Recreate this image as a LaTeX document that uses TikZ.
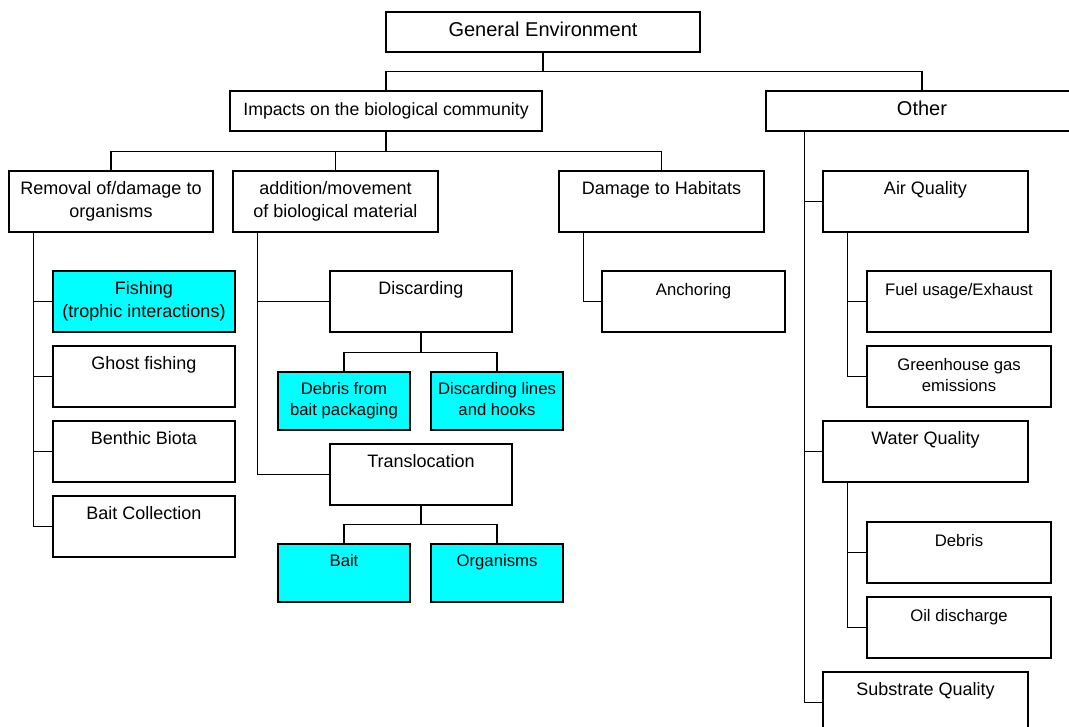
\documentclass[tikz,border=0pt]{standalone}
\usepackage{fontspec}
\setmainfont{Liberation Sans}
\definecolor{aqua}{RGB}{0,255,255}
\newcommand{\boxtext}[2]{\strut#1\\\strut#2}

\begin{document}
\begin{tikzpicture}[x=1pt,y=-1pt,
    box/.style={draw,rectangle,line width=1.3pt,inner sep=0pt,align=center},
    big/.style={box,minimum height=40,font=\fontsize{20}{25}\selectfont},
    mid/.style={box,minimum height=61,font=\fontsize{18}{22.5}\selectfont},
    small/.style={box,font=\fontsize{16.7}{21}\selectfont},
    hl/.style={fill=aqua},
    link/.style={draw,line width=1.3pt}]
  \path[use as bounding box,clip] (0,0) rectangle (1069,727);
  \node[big,minimum width=314] (ge) at (543,32) {\strut General Environment};
  \node[big,minimum width=312,font=\fontsize{17.7}{25}\selectfont] (imp) at (386,111) {\strut Impacts on the biological community};
  \node[big,minimum width=312] (oth) at (922,111) {\strut Other};
  % second row
  \node[mid,minimum width=204] (rem) at (111,201.5) {\boxtext{Removal of/damage to}{organisms}};
  \node[mid,minimum width=205] (add) at (335.5,201.5) {\boxtext{addition/movement}{of biological material}};
  \node[mid,minimum width=205] (dam) at (661.5,201.5) {\boxtext{Damage to Habitats}{}};
  \node[mid,minimum width=205] (air) at (925.5,201.5) {\boxtext{Air Quality}{}};
  \node[mid,minimum width=205] (wat) at (925.5,451.5) {\boxtext{Water Quality}{}};
  \node[mid,minimum width=205] (subs) at (925.5,702.5) {\boxtext{Substrate Quality}{}};
  % removal branch
  \node[mid,hl,minimum width=182] (fish) at (144,301.5) {\boxtext{Fishing}{(trophic interactions)}};
  \node[mid,minimum width=182] (ghost) at (144,376.5) {\boxtext{Ghost fishing}{}};
  \node[mid,minimum width=182] (benth) at (144,451.5) {\boxtext{Benthic Biota}{}};
  \node[mid,minimum width=182] (baitc) at (144,526.5) {\boxtext{Bait Collection}{}};
  % addition branch
  \node[mid,minimum width=182] (disc) at (421,301.5) {\boxtext{Discarding}{}};
  \node[mid,minimum width=182] (transl) at (421,474.5) {\boxtext{Translocation}{}};
  \node[small,hl,minimum width=132,minimum height=58] (debr) at (344,401) {\boxtext{Debris from}{bait packaging}};
  \node[small,hl,minimum width=132,minimum height=58] (lines) at (497,401) {\boxtext{Discarding lines}{and hooks}};
  \node[small,hl,minimum width=132,minimum height=58] (bait) at (344,573) {\boxtext{Bait}{}};
  \node[small,hl,minimum width=132,minimum height=58] (org) at (497,573) {\boxtext{Organisms}{}};
  % habitats and other
  \node[small,minimum width=183,minimum height=61] (anch) at (693.5,301.5) {\boxtext{Anchoring}{}};
  \node[small,minimum width=184,minimum height=61] (fuel) at (959,301.5) {\boxtext{Fuel usage/Exhaust}{}};
  \node[small,minimum width=184,minimum height=61] (green) at (959,376.5) {\boxtext{Greenhouse gas}{emissions}};
  \node[small,minimum width=184,minimum height=61] (debris) at (959,552.5) {\boxtext{Debris}{}};
  \node[small,minimum width=184,minimum height=61] (oil) at (959,627.5) {\boxtext{Oil discharge}{}};

  \foreach \c in {imp,oth}
    \path[link] (ge.south) -- ++(0,19) -| (\c.north);
  \foreach \c in {rem,add,dam}
    \path[link] (imp.south) -- ++(0,20) -| (\c.north);
  \foreach \c in {debr,lines}
    \path[link] (disc.south) -- ++(0,20) -| (\c.north);
  \foreach \c in {bait,org}
    \path[link] (transl.south) -- ++(0,19) -| (\c.north);
  \foreach \p/\c in {rem/fish,rem/ghost,rem/benth,rem/baitc,add/disc,add/transl,
                     dam/anch,air/fuel,air/green,wat/debris,wat/oil}
    \path[link] ([xshift=25pt]\p.south west) |- (\c.west);
  \foreach \c in {air,wat,subs}
    \path[link] ([xshift=39pt]oth.south west) |- (\c.west);
\end{tikzpicture}
\end{document}
